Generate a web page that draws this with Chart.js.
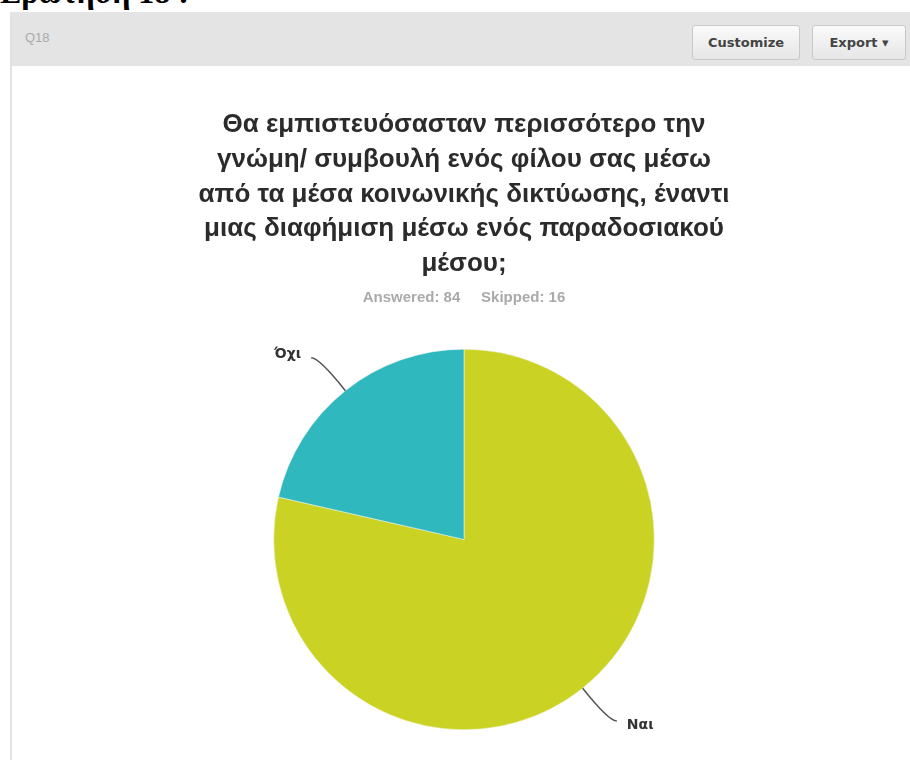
<!DOCTYPE html>
<html>
<head>
<meta charset="utf-8">
<script src="https://cdn.jsdelivr.net/npm/chart.js@4.4.1/dist/chart.umd.min.js"></script>
<style>
  html, body { margin: 0; padding: 0; background: #fff; }
  body { width: 910px; height: 760px; position: relative; overflow: hidden; font-family: "Liberation Sans", Arial, sans-serif; }
  #heading { position: absolute; left: 0; top: -26px; font: bold 32px "Liberation Serif", "Times New Roman", serif; color: #000; white-space: nowrap; }
  #card { position: absolute; left: 10px; top: 12px; width: 900px; height: 760px; border-left: 2px solid #e2e2e2; background: #fff; }
  #bar { position: absolute; left: 0; top: 0; width: 900px; height: 54px; background: #e4e4e4; }
  #qnum { position: absolute; left: 13px; top: 18px; font-size: 13px; color: #aaa; }
  .btn { position: absolute; top: 13px; height: 35px; box-sizing: border-box; border: 1px solid #c9c9c9; border-radius: 3px;
         background: linear-gradient(#fafafa, #e6e6e6); font: bold 13px "DejaVu Sans", sans-serif; color: #444; line-height: 33px; text-align: center; }
  #customize { left: 680px; width: 108px; }
  #export { left: 800px; width: 94px; }
  #chartBox { position: absolute; left: 0; top: 66px; width: 910px; height: 694px; }
</style>
</head>
<body>
<div id="heading">Ερώτηση 18 :</div>
<div id="card">
  <div id="bar">
    <div id="qnum">Q18</div>
    <div class="btn" id="customize">Customize</div>
    <div class="btn" id="export">Export &#9662;</div>
  </div>
</div>
<div id="chartBox"><canvas id="pieChart"></canvas></div>

<script>
// Απαντήσεις της ερώτησης
const answerLabels = ['Ναι', 'Όχι'];
const answerCounts = [66, 18];
const answeredTotal = 84;
const skippedTotal = 16;
const answerColors = ['#cad324', '#2fb8bd'];

const questionLines = [
    'Θα εμπιστευόσασταν περισσότερο την',
    'γνώμη/ συμβουλή ενός φίλου σας μέσω',
    'από τα μέσα κοινωνικής δικτύωσης, έναντι',
    'μιας διαφήμιση μέσω ενός παραδοσιακού',
    'μέσου;'
];

// Ετικέτες έξω από την πίτα με γραμμή οδηγό
const leaderLabels = {
    id: 'leaderLabels',
    afterDatasetsDraw(chart) {
        const ctx = chart.ctx;
        const meta = chart.getDatasetMeta(0);
        ctx.save();
        ctx.strokeStyle = '#555';
        ctx.lineWidth = 1.5;
        ctx.fillStyle = '#333';
        ctx.font = 'bold 14px "DejaVu Sans", sans-serif';
        ctx.textBaseline = 'middle';
        meta.data.forEach(function (arc, i) {
            const p = arc.getProps(['x', 'y', 'startAngle', 'endAngle', 'outerRadius'], true);
            const mid = (p.startAngle + p.endAngle) / 2;
            const cos = Math.cos(mid), sin = Math.sin(mid);
            const ex = p.x + cos * p.outerRadius, ey = p.y + sin * p.outerRadius;
            const bx = p.x + cos * (p.outerRadius + 42), by = p.y + sin * (p.outerRadius + 42);
            const dir = cos >= 0 ? 1 : -1;
            const tx = bx + dir * 8;
            ctx.beginPath();
            ctx.moveTo(ex, ey);
            ctx.quadraticCurveTo(bx, by, tx, by);
            ctx.stroke();
            ctx.textAlign = dir > 0 ? 'left' : 'right';
            ctx.fillText(chart.data.labels[i], tx + dir * 10, by + (sin > 0 ? 4 : -3));
        });
        ctx.restore();
    }
};

new Chart(document.getElementById('pieChart'), {
    type: 'pie',
    data: {
        labels: answerLabels,
        datasets: [{
            data: answerCounts,
            backgroundColor: answerColors,
            borderColor: '#f4f4f0',
            borderWidth: 0.5
        }]
    },
    options: {
        responsive: true,
        maintainAspectRatio: false,
        animation: false,
        layout: { padding: { left: 18, right: 0, top: 0, bottom: 30 } },
        plugins: {
            legend: { display: false },
            tooltip: { enabled: false },
            title: {
                display: true,
                text: questionLines,
                color: '#2b2b2b',
                font: { family: '"Liberation Sans", Arial, sans-serif', size: 26, weight: 'bold', lineHeight: 1.33 },
                padding: { top: 42, bottom: 8 }
            },
            subtitle: {
                display: true,
                text: 'Answered: ' + answeredTotal + '     Skipped: ' + skippedTotal,
                color: '#aaa',
                font: { family: '"Liberation Sans", Arial, sans-serif', size: 15, weight: 'bold', lineHeight: 1.2 },
                padding: { top: 0, bottom: 42 }
            }
        }
    },
    plugins: [leaderLabels]
});
</script>
</body>
</html>
